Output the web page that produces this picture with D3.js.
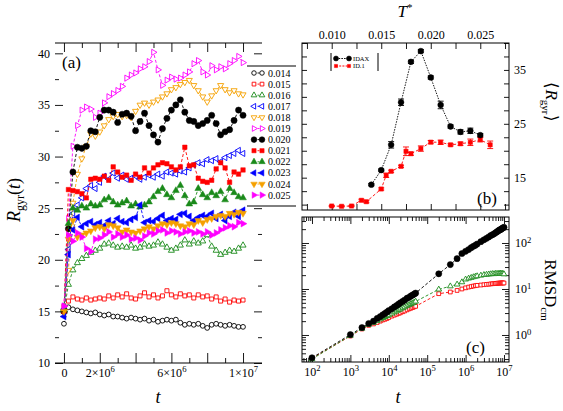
<!DOCTYPE html>
<html><head><meta charset="utf-8">
<script src="https://cdn.jsdelivr.net/npm/d3@7"></script>
<style>body{margin:0;background:#fff}svg{display:block}</style>
</head><body>
<svg id="chart" width="563" height="411"></svg>
<script>
// ================= DATA =================
// Panel (a): Rgyr(t) time series, t in units of 10^6
const timeA = [0,0.25,0.5,0.75,1,1.25,1.5,1.75,2,2.25,2.5,2.75,3,3.25,3.5,3.75,4,4.25,4.5,4.75,5,5.25,5.5,5.75,6,6.25,6.5,6.75,7,7.25,7.5,7.75,8,8.25,8.5,8.75,9,9.25,9.5,9.75,10];
const temperatures = ["0.014","0.015","0.016","0.017","0.018","0.019","0.020","0.021","0.022","0.023","0.024","0.025"];
const rg014 = [13.8,15.4,15.2,15.1,15.0,14.9,14.8,14.9,14.7,14.6,14.7,14.5,14.5,14.4,14.3,14.4,14.3,14.2,14.3,14.1,14.2,14.0,14.1,14.2,14.1,14.2,13.9,13.7,13.8,13.7,13.8,13.6,13.4,13.7,13.8,13.7,13.6,13.7,13.6,13.5,13.5];
const rg015 = [15.5,16.0,16.4,16.2,16.1,16.3,16.1,16.2,16.3,16.2,16.5,16.3,16.6,16.4,16.7,16.3,16.2,16.5,16.8,16.4,16.6,16.3,16.5,17.0,16.6,16.4,16.7,16.5,16.6,16.3,16.6,16.4,16.5,16.2,16.4,16.0,16.2,15.9,16.1,16.0,16.1];
const rg016 = [15.0,17.6,19.0,19.7,20.1,20.4,20.7,20.9,21.1,21.5,21.6,21.4,21.2,21.3,21.2,21.4,21.1,21.2,21.5,21.3,21.4,21.7,21.5,21.2,20.9,21.1,21.4,21.9,21.5,21.8,21.6,21.8,22.4,21.3,20.9,20.5,20.7,20.9,20.8,21.1,21.4];
const rg017 = [15.2,21.0,24.5,25.3,26.0,26.9,27.2,26.9,27.5,28.1,27.8,28.4,27.9,28.2,27.8,27.9,28.1,27.8,28.0,28.2,28.0,28.3,28.1,28.5,28.4,28.3,28.6,28.5,28.9,29.2,29.4,29.3,29.7,29.6,29.8,29.5,29.9,30.1,30.3,30.6,30.3];
const rg018 = [15.0,19.0,25.5,28.3,29.8,31.0,32.2,32.0,32.4,33.0,33.6,33.9,34.1,33.9,34.0,33.8,34.4,35.0,35.2,35.0,35.3,35.5,35.8,36.1,36.5,36.7,37.0,37.2,37.4,36.9,36.4,35.8,35.3,35.9,36.4,36.9,36.5,36.2,36.4,36.1,36.0];
const rg019 = [15.5,24.0,31.0,33.0,34.5,34.8,34.6,33.8,34.2,35.2,35.8,36.1,36.4,36.8,37.6,37.9,38.1,38.5,38.7,39.2,40.1,38.4,36.9,37.4,37.7,37.5,37.6,37.9,38.2,39.0,39.3,38.2,37.9,38.8,38.4,38.7,38.5,39.0,39.3,39.7,39.1];
const rg020 = [15.0,23.0,28.5,30.9,30.8,31.0,32.5,32.4,33.8,34.5,34.5,34.3,33.3,34.1,34.2,33.9,32.5,33.4,34.2,33.0,32.1,31.4,32.7,33.7,34.5,35.0,35.5,34.3,33.5,33.4,33.0,33.2,33.5,34.0,33.2,32.1,32.4,32.6,33.5,34.5,34.0];
const rg021 = [15.0,26.8,26.7,26.6,26.4,26.0,27.8,27.9,27.8,28.1,27.7,29.0,28.5,28.0,28.2,27.7,28.3,28.0,28.9,28.4,28.9,29.2,29.4,29.3,29.0,28.7,29.0,30.9,29.1,29.2,27.9,27.6,27.5,27.7,28.8,29.4,28.9,27.5,28.5,28.3,28.7];
const rg022 = [15.2,23.5,25.0,24.8,25.2,25.0,25.4,25.2,25.3,25.8,26.0,25.6,25.3,25.5,25.7,25.2,25.4,25.1,25.3,25.6,26.1,26.6,26.9,26.3,26.0,26.7,27.2,26.2,25.4,25.6,26.9,26.3,26.0,26.5,26.2,26.6,25.8,26.9,26.5,26.1,26.0];
const rg023 = [14.5,20.5,22.9,24.1,23.2,23.5,23.7,23.4,23.6,23.3,23.8,23.5,24.0,23.7,23.6,23.9,24.1,25.3,23.6,23.8,23.7,24.0,24.3,23.8,24.0,23.9,24.4,24.5,24.2,23.8,24.1,24.3,24.2,24.5,24.0,24.4,23.8,24.2,24.6,24.2,24.8];
const rg024 = [15.0,22.0,23.8,22.2,22.4,22.6,22.8,23.1,23.2,23.0,23.4,23.3,23.1,22.7,22.9,22.7,22.6,22.8,23.0,23.2,23.0,23.3,23.5,23.4,23.6,23.5,23.3,23.2,23.5,23.4,23.8,23.6,23.9,24.0,24.2,24.3,24.2,24.5,24.4,24.6,24.5];
const rg025 = [15.5,22.4,21.8,22.6,22.2,21.1,20.8,22.0,22.1,22.4,22.7,22.2,22.5,22.2,22.4,22.0,22.1,21.9,22.3,22.6,22.5,22.8,22.9,22.6,22.8,22.7,22.5,22.7,22.8,22.6,22.7,22.5,22.7,22.4,22.6,22.9,23.1,23.3,23.2,23.6,23.5];
const xTicksA = [0,2,4,6,8,10];
const xTickLabelsA = ["0","2×10^6","","6×10^6","","1×10^7"];
const yTicksA = [10,15,20,25,30,35,40];

// Panel (b): <Rgyr> vs T*
const tempIDAX = [0.014,0.015,0.016,0.017,0.018,0.019,0.020,0.021,0.022,0.023,0.024,0.025];
const rgIDAX   = [13.7,16.4,21.1,29.0,36.5,38.5,33.6,28.5,24.5,23.5,23.7,22.9];
const errIDAX  = [0.2,0.2,0.6,0.6,0.3,0.3,0.3,0.7,0.3,0.4,0.5,0.3];
const tempID1  = [0.010,0.011,0.012,0.013,0.0135,0.015,0.0155,0.016,0.017,0.0175,0.018,0.019,0.020,0.021,0.022,0.023,0.024,0.025,0.026];
const rgID1    = [9.74,9.69,9.74,10.8,10.54,12.9,15.44,16.18,17.1,19.9,19.45,20.4,21.6,21.57,21.1,21.3,21.57,22.05,21.1];
const errID1   = [0.1,0.1,0.1,0.2,0.2,0.2,0.4,0.2,0.2,0.8,0.3,0.5,0.3,0.4,0.2,0.3,0.6,0.4,0.7];
const xTicksB = [0.0075,0.010,0.0125,0.015,0.0175,0.020,0.0225,0.025,0.0275];
const xTickLabelsB = ["","0.010","","0.015","","0.020","","0.025",""];
const yTicksB = [10,12.5,15,17.5,20,22.5,25,27.5,30,32.5,35,37.5,40];
const yTickLabelsB = ["","","15","","","","25","","","","35","",""];

// Panel (c): RMSD_cm vs t (log-log)
const timeC = [100,1000,2000,3000,4000,5000,6000,7000,8000,9000,10000,12000,14000,16000,18000,20000,23000,26000,30000,34000,38000,42000,46000,50000,2e5,4e5,6e5,8e5,1e6,1.2e6,1.4e6,1.6e6,1.8e6,2e6,2.5e6,3e6,3.5e6,4e6,4.5e6,5e6,5.5e6,6e6,6.5e6,7e6,7.5e6,8e6,8.5e6,9e6,9.5e6,1e7];
const rmsdBlack = [0.32,1.02,1.45,1.78,2.0,2.29,2.51,2.75,2.95,3.16,3.39,3.72,4.07,4.37,4.68,5.01,5.37,5.75,6.31,6.61,7.08,7.41,7.76,8.13,21.4,33.9,45.7,59,66,72,79,85,89,95,107,117,126,135,145,151,158,166,174,182,190,195,200,209,214,219];
const rmsdGreen = [0.30,0.97,1.38,1.68,1.85,2.04,2.21,2.36,2.48,2.61,2.72,2.94,3.14,3.3,3.5,3.64,3.86,4.05,4.33,4.54,4.76,4.95,5.15,5.36,9.8,11.5,12.6,14.1,16.2,17.0,17.6,18.2,18.7,19.1,19.7,20.3,20.6,20.9,21.1,21.3,21.2,21.5,21.4,21.6,21.5,21.8,21.4,21.6,21.3,21.0];
const rmsdRed   = [0.31,0.95,1.35,1.62,1.74,1.87,2.0,2.12,2.2,2.29,2.4,2.57,2.7,2.82,2.95,3.03,3.2,3.33,3.52,3.7,3.83,3.96,4.1,4.2,7.9,8.6,9.3,10.0,10.6,11.0,11.3,11.6,11.8,12.0,12.2,12.4,12.6,12.7,12.9,13.0,13.1,13.2,13.3,13.4,13.4,13.5,13.5,13.6,13.5,13.5];
const xTicksC = [1e2,1e3,1e4,1e5,1e6,1e7];
const xTickLabelsC = ["10^2","10^3","10^4","10^5","10^6","10^7"];
const yTicksC = [1,10,100];
const yTickLabelsC = ["10^0","10^1","10^2"];

// ================= DRAWING =================
const serif = "'Liberation Serif','Times New Roman',serif";
const svg = d3.select("#chart").attr("font-family", serif);

const colors = {black:"#000000", red:"#ff0000", green:"#1a8a1a", blue:"#0000ff", orange:"#f5a000", magenta:"#ff00ff"};
const seriesA = [
  {name:temperatures[0], values:rg014, color:colors.black, shape:"circle", filled:false},
  {name:temperatures[1], values:rg015, color:colors.red, shape:"square", filled:false},
  {name:temperatures[2], values:rg016, color:colors.green, shape:"up", filled:false},
  {name:temperatures[3], values:rg017, color:colors.blue, shape:"left", filled:false},
  {name:temperatures[4], values:rg018, color:colors.orange, shape:"down", filled:false},
  {name:temperatures[5], values:rg019, color:colors.magenta, shape:"right", filled:false},
  {name:temperatures[6], values:rg020, color:colors.black, shape:"circle", filled:true},
  {name:temperatures[7], values:rg021, color:colors.red, shape:"square", filled:true},
  {name:temperatures[8], values:rg022, color:colors.green, shape:"up", filled:true},
  {name:temperatures[9], values:rg023, color:colors.blue, shape:"left", filled:true},
  {name:temperatures[10], values:rg024, color:colors.orange, shape:"down", filled:true},
  {name:temperatures[11], values:rg025, color:colors.magenta, shape:"right", filled:true}
];

const shapeMap = {
  circle:[d3.symbolCircle,0], square:[d3.symbolSquare,0], up:[d3.symbolTriangle,0],
  down:[d3.symbolTriangle,180], left:[d3.symbolTriangle,-90], right:[d3.symbolTriangle,90]
};
function addMarkers(g, pts, shape, color, filled, size){
  const [type, rot] = shapeMap[shape];
  const p = d3.symbol().type(type).size(size)();
  g.selectAll(null).data(pts).join("path")
    .attr("d", p)
    .attr("transform", d => `translate(${d[0]},${d[1]}) rotate(${rot})`)
    .attr("fill", filled ? color : "#fff")
    .attr("stroke", color)
    .attr("stroke-width", filled ? 0.5 : 0.9);
}
function supify(sel){
  sel.each(function(){
    const el = d3.select(this); const s = el.text();
    if (!s.includes("^")) return;
    const [b, e] = s.split("^");
    el.text(null);
    el.append("tspan").text(b);
    el.append("tspan").attr("dy","-0.5em").attr("font-size","0.72em").text(e);
  });
}
function styleAxis(g){
  g.select(".domain").remove();
  g.selectAll("line").attr("stroke","#000").attr("stroke-width",0.9);
  g.selectAll("text").attr("font-family",serif).attr("font-size",12).attr("fill","#000");
  g.attr("font-family",serif);
}
function hline(x1,x2,y){ svg.append("line").attr("x1",x1).attr("x2",x2).attr("y1",y).attr("y2",y).attr("stroke","#000").attr("stroke-width",1); }
function vline(x,y1,y2){ svg.append("line").attr("x1",x).attr("x2",x).attr("y1",y1).attr("y2",y2).attr("stroke","#000").attr("stroke-width",1); }

// ---------- Panel (a) ----------
const xA = d3.scaleLinear().domain([-0.5, 11.06]).range([55, 262]);
const yA = d3.scaleLinear().domain([10, 41]).range([363, 43]);
const gA = svg.append("g");
seriesA.forEach(s => {
  const pts = timeA.map((t,i) => [xA(t), yA(s.values[i])]);
  gA.append("path").attr("d", d3.line()(pts)).attr("fill","none")
    .attr("stroke", s.color).attr("stroke-width",0.9).attr("stroke-dasharray","3,2");
  addMarkers(gA, pts, s.shape, s.color, s.filled, s.shape==="circle" ? (s.filled?30:18) : (s.filled?20:16));
});
const minorXA = [1,3,5,7,9];
const minorYA = [12.5,17.5,22.5,27.5,32.5,37.5];
svg.append("g").attr("transform","translate(0,363)")
  .call(d3.axisBottom(xA).tickValues(xTicksA).tickSize(-10).tickPadding(5).tickFormat((d,i)=>xTickLabelsA[i]))
  .call(styleAxis).call(g=>supify(g.selectAll("text")));
svg.append("g").attr("transform","translate(0,363)")
  .call(d3.axisBottom(xA).tickValues(minorXA).tickSize(-5).tickFormat("")).call(styleAxis);
svg.append("g").attr("transform","translate(0,43)")
  .call(d3.axisTop(xA).tickValues(xTicksA).tickSize(-9).tickFormat("")).call(styleAxis);
svg.append("g").attr("transform","translate(0,43)")
  .call(d3.axisTop(xA).tickValues(minorXA).tickSize(-5).tickFormat("")).call(styleAxis);
svg.append("g").attr("transform","translate(55,0)")
  .call(d3.axisLeft(yA).tickValues(yTicksA).tickSize(-8).tickPadding(5)).call(styleAxis);
svg.append("g").attr("transform","translate(55,0)")
  .call(d3.axisLeft(yA).tickValues(minorYA).tickSize(-4).tickFormat("")).call(styleAxis);
svg.append("g").attr("transform","translate(262,0)")
  .call(d3.axisRight(yA).tickValues(yTicksA).tickSize(-8).tickFormat("")).call(styleAxis);
svg.append("g").attr("transform","translate(262,0)")
  .call(d3.axisRight(yA).tickValues(minorYA).tickSize(-4).tickFormat("")).call(styleAxis);
hline(55,262,43); hline(55,262,363);

// legend (a)
const legA = svg.append("g");
legA.append("rect").attr("x",247).attr("y",66).attr("width",49).attr("height",140).attr("fill","#fff");
hline(247,296,66); hline(247,296,206);
seriesA.forEach((s,i) => {
  const y = 73 + i*11.1;
  legA.append("line").attr("x1",254).attr("x2",262).attr("y1",y).attr("y2",y)
    .attr("stroke",s.color).attr("stroke-width",0.9).attr("stroke-dasharray","2,1.5");
  addMarkers(legA, [[254,y],[262,y]], s.shape, s.color, s.filled, s.shape==="circle" ? (s.filled?26:16) : (s.filled?18:14));
  legA.append("text").attr("x",268).attr("y",y).attr("dy","0.35em").attr("font-size",10).text(s.name);
});

svg.append("text").attr("x",62).attr("y",68).attr("font-size",17).text("(a)");
const ytA = svg.append("text").attr("transform","translate(20,200) rotate(-90)").attr("text-anchor","middle").attr("font-size",18);
ytA.append("tspan").attr("font-style","italic").text("R");
ytA.append("tspan").attr("font-size",12).attr("dy",4).text("gyr");
ytA.append("tspan").attr("dy",-4).text("(");
ytA.append("tspan").attr("font-style","italic").text("t");
ytA.append("tspan").text(")");
svg.append("text").attr("x",158).attr("y",403).attr("text-anchor","middle").attr("font-size",18).attr("font-style","italic").text("t");

// ---------- Panel (b) ----------
const xB = d3.scaleLinear().domain([0.007, 0.0279]).range([302, 509]);
const yB = d3.scaleLinear().domain([9, 40]).range([210, 43]);
svg.append("g").attr("transform","translate(0,43)")
  .call(d3.axisTop(xB).tickValues(xTicksB).tickSize(-6).tickPadding(4).tickFormat((d,i)=>xTickLabelsB[i])).call(styleAxis);
svg.append("g").attr("transform","translate(0,210)")
  .call(d3.axisBottom(xB).tickValues(xTicksB).tickSize(-6).tickFormat("")).call(styleAxis);
svg.append("g").attr("transform","translate(509,0)")
  .call(d3.axisRight(yB).tickValues(yTicksB).tickSize(-5).tickPadding(5).tickFormat((d,i)=>yTickLabelsB[i])).call(styleAxis);
svg.append("g").attr("transform","translate(302,0)")
  .call(d3.axisLeft(yB).tickValues(yTicksB).tickSize(-5).tickFormat("")).call(styleAxis);
svg.append("rect").attr("x",302).attr("y",43).attr("width",207).attr("height",167).attr("fill","none").attr("stroke","#000").attr("stroke-width",1);

function drawB(temps, vals, errs, color, shape, dash, size){
  const g = svg.append("g");
  const pts = temps.map((t,i)=>[xB(t), yB(vals[i])]);
  g.append("path").attr("d", d3.line()(pts)).attr("fill","none").attr("stroke",color).attr("stroke-width",0.9).attr("stroke-dasharray",dash);
  temps.forEach((t,i)=>{
    const x = xB(t), y1 = yB(vals[i]-errs[i]), y2 = yB(vals[i]+errs[i]);
    g.append("line").attr("x1",x).attr("x2",x).attr("y1",y1).attr("y2",y2).attr("stroke",color).attr("stroke-width",0.9);
    g.append("line").attr("x1",x-3).attr("x2",x+3).attr("y1",y1).attr("y2",y1).attr("stroke",color).attr("stroke-width",0.9);
    g.append("line").attr("x1",x-3).attr("x2",x+3).attr("y1",y2).attr("y2",y2).attr("stroke",color).attr("stroke-width",0.9);
  });
  addMarkers(g, pts, shape, color, true, size);
}
drawB(tempID1, rgID1, errID1, colors.red, "square", "3,2", 18);
drawB(tempIDAX, rgIDAX, errIDAX, colors.black, "circle", "1.5,1.2", 26);

// legend (b)
vline(331,53,71); vline(378,53,71);
svg.append("line").attr("x1",336).attr("x2",349).attr("y1",58.5).attr("y2",58.5).attr("stroke","#000").attr("stroke-dasharray","1.5,1.2");
addMarkers(svg.append("g"), [[336,58.5],[349,58.5]], "circle", "#000", true, 20);
svg.append("text").attr("x",353).attr("y",58.5).attr("dy","0.35em").attr("font-size",6.5).text("IDAX");
svg.append("line").attr("x1",336).attr("x2",349).attr("y1",66).attr("y2",66).attr("stroke",colors.red).attr("stroke-dasharray","2,1.2");
addMarkers(svg.append("g"), [[336,66],[349,66]], "square", colors.red, true, 10);
svg.append("text").attr("x",353).attr("y",66).attr("dy","0.35em").attr("font-size",6.5).text("ID.1");

svg.append("text").attr("x",477).attr("y",204).attr("font-size",17).text("(b)");
const tT = svg.append("text").attr("x",405).attr("y",17).attr("text-anchor","middle").attr("font-size",17);
tT.append("tspan").attr("font-style","italic").text("T");
tT.append("tspan").attr("dy",-6).attr("font-size",11).text("*");
const ytB = svg.append("text").attr("transform","translate(546,102) rotate(90)").attr("text-anchor","middle").attr("font-size",17);
ytB.append("tspan").text("⟨");
ytB.append("tspan").attr("font-style","italic").text("R");
ytB.append("tspan").attr("font-size",11).attr("dy",4).text("gyr");
ytB.append("tspan").attr("dy",-4).text("⟩");

// ---------- Panel (c) ----------
const xC = d3.scaleLog().domain([54.95, 1.349e7]).range([302, 509]);
const yC = d3.scaleLog().domain([0.2588, 367.3]).range([362, 217]);
const minorXC = [], minorYC = [];
[10,100,1e3,1e4,1e5,1e6,1e7].forEach(dd => [2,3,4,5,6,7,8,9].forEach(m => { const v=m*dd; if (v>=54.95 && v<=1.349e7) minorXC.push(v); }));
[0.1,1,10,100].forEach(dd => [2,3,4,5,6,7,8,9].forEach(m => { const v=m*dd; if (v>=0.2588 && v<=367.3) minorYC.push(v); }));
svg.append("g").attr("transform","translate(0,362)")
  .call(d3.axisBottom(xC).tickValues(xTicksC).tickSize(-7).tickPadding(5).tickFormat((d,i)=>xTickLabelsC[i]))
  .call(styleAxis).call(g=>supify(g.selectAll("text")));
svg.append("g").attr("transform","translate(0,362)").call(d3.axisBottom(xC).tickValues(minorXC).tickSize(-4).tickFormat("")).call(styleAxis);
svg.append("g").attr("transform","translate(0,217)").call(d3.axisTop(xC).tickValues(xTicksC).tickSize(-7).tickFormat("")).call(styleAxis);
svg.append("g").attr("transform","translate(0,217)").call(d3.axisTop(xC).tickValues(minorXC).tickSize(-4).tickFormat("")).call(styleAxis);
svg.append("g").attr("transform","translate(509,0)")
  .call(d3.axisRight(yC).tickValues(yTicksC).tickSize(-7).tickPadding(6).tickFormat((d,i)=>yTickLabelsC[i]))
  .call(styleAxis).call(g=>supify(g.selectAll("text")));
svg.append("g").attr("transform","translate(509,0)").call(d3.axisRight(yC).tickValues(minorYC).tickSize(-4).tickFormat("")).call(styleAxis);
svg.append("g").attr("transform","translate(302,0)").call(d3.axisLeft(yC).tickValues(yTicksC).tickSize(-7).tickFormat("")).call(styleAxis);
svg.append("g").attr("transform","translate(302,0)").call(d3.axisLeft(yC).tickValues(minorYC).tickSize(-4).tickFormat("")).call(styleAxis);
svg.append("rect").attr("x",302).attr("y",217).attr("width",207).attr("height",145).attr("fill","none").attr("stroke","#000").attr("stroke-width",1);

function drawC(vals, color, shape, filled, size){
  const g = svg.append("g");
  const pts = timeC.map((t,i)=>[xC(t), yC(vals[i])]);
  g.append("path").attr("d", d3.line()(pts)).attr("fill","none").attr("stroke",color).attr("stroke-width",0.9).attr("stroke-dasharray","3,2");
  addMarkers(g, pts, shape, color, filled, size);
}
drawC(rmsdRed, colors.red, "square", false, 14);
drawC(rmsdGreen, colors.green, "up", false, 14);
drawC(rmsdBlack, colors.black, "circle", true, 30);

svg.append("text").attr("x",466).attr("y",353).attr("font-size",17).text("(c)");
svg.append("text").attr("x",398).attr("y",403).attr("text-anchor","middle").attr("font-size",18).attr("font-style","italic").text("t");
const ytC = svg.append("text").attr("transform","translate(545,290) rotate(90)").attr("text-anchor","middle").attr("font-size",17);
ytC.append("tspan").text("RMSD");
ytC.append("tspan").attr("font-size",11).attr("dy",4).text("cm");
</script>
</body></html>
